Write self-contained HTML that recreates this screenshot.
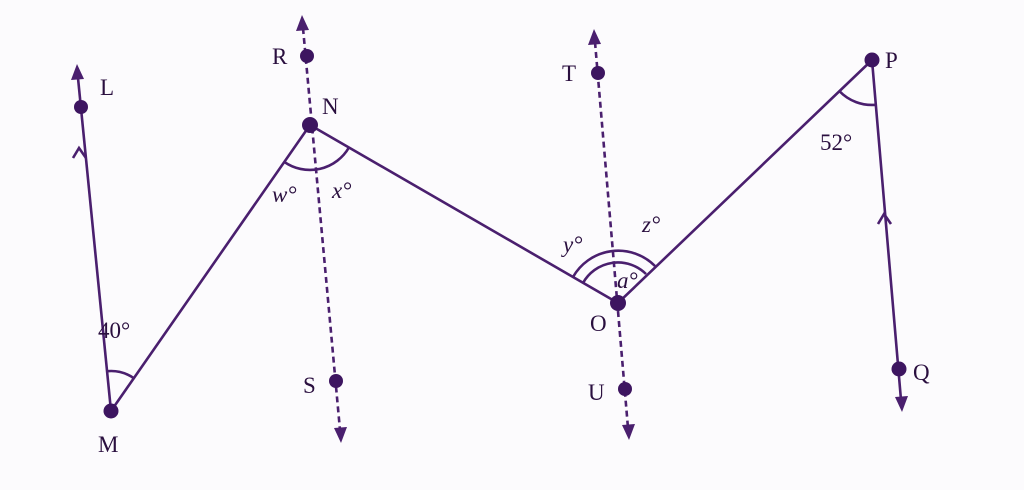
<!DOCTYPE html>
<html><head><meta charset="utf-8"><style>
html,body{margin:0;padding:0;background:#fcfbfd;}
svg{display:block}
text{font-family:"Liberation Serif",serif;fill:#2a0f3f;font-size:23px;}
.it{font-style:italic}
</style></head><body>
<svg width="1024" height="490" viewBox="0 0 1024 490" xmlns="http://www.w3.org/2000/svg">
<g stroke="#4a1f6e" stroke-width="2.6" fill="none">
<line x1="111" y1="411" x2="78" y2="78"/>
<polyline points="111,411 310,125 618,303 872,60 901,400"/>
<line x1="303" y1="28" x2="340" y2="430" stroke-dasharray="6,4"/>
<line x1="595" y1="42" x2="628" y2="428" stroke-dasharray="6,4"/>
<polyline points="73,158 79,148 86,158"/>
<polyline points="878,224 884,214 891,224"/>
<path d="M107.1,371.2 A40,40 0 0 1 133.8,378.2"/>
<path d="M284.3,161.9 A45,45 0 0 0 349,147.4"/>
<path d="M583,283 A40,40 0 0 1 646,274"/>
<path d="M573,277 A52,52 0 0 1 655,266"/>
<path d="M839.4,91.1 A45,45 0 0 0 875.9,104.8"/>
</g>
<g fill="#4a1f6e">
<polygon points="77,64 71,80 84,79"/>
<polygon points="302,15 296,31 309,30"/>
<polygon points="341,443 334,428 347,427"/>
<polygon points="594,29 588,45 601,44"/>
<polygon points="629,440 622,425 635,424"/>
<polygon points="902,412 895,397 908,396"/>
</g>
<g fill="#3d1560">
<circle cx="81" cy="107" r="7"/>
<circle cx="111" cy="411" r="7.5"/>
<circle cx="310" cy="125" r="8"/>
<circle cx="307" cy="56" r="7"/>
<circle cx="336" cy="381" r="7"/>
<circle cx="598" cy="73" r="7"/>
<circle cx="625" cy="389" r="7"/>
<circle cx="618" cy="303" r="8"/>
<circle cx="872" cy="60" r="7.5"/>
<circle cx="899" cy="369" r="7.5"/>
</g>
<text x="100" y="95">L</text>
<text x="272" y="64">R</text>
<text x="322" y="114">N</text>
<text x="562" y="81">T</text>
<text x="885" y="68">P</text>
<text x="590" y="331">O</text>
<text x="303" y="393">S</text>
<text x="588" y="400">U</text>
<text x="913" y="380">Q</text>
<text x="98" y="452">M</text>
<text x="98" y="338">40°</text>
<text x="820" y="150">52°</text>
<text class="it" x="272" y="202">w°</text>
<text class="it" x="332" y="198">x°</text>
<text class="it" x="563" y="252">y°</text>
<text class="it" x="642" y="232">z°</text>
<text class="it" x="617" y="288">a°</text>
</svg>
</body></html>
